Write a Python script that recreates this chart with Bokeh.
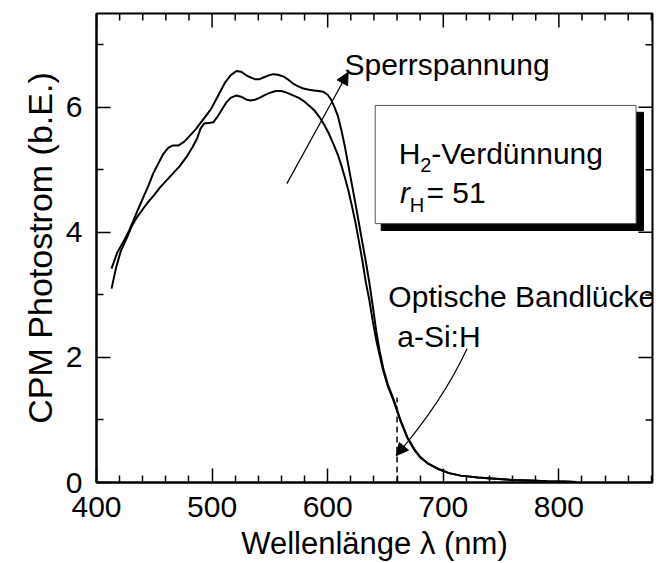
from bokeh.plotting import figure
from bokeh.models import Range1d, FixedTicker, Label, Arrow, NormalHead, BoxAnnotation
from bokeh.embed import file_html
from bokeh.resources import INLINE

# ---- data ----
wl_high = [413, 418, 423, 428, 432, 436, 440, 445, 449, 454, 458, 462, 466, 471, 476, 481,
           486, 490, 495, 499, 503, 507, 511, 516, 521, 525, 529, 533, 537, 541, 545, 549,
           553, 557, 562, 566, 570, 575, 579, 584, 588, 592, 596, 600, 603, 606, 609, 612,
           615, 618, 621, 624, 627, 630, 633, 636, 639, 642, 645, 648, 652, 657, 663, 669,
           675, 680, 687, 695, 705, 715, 730, 745, 760, 775, 790, 805, 815]
cpm_high = [3.42, 3.68, 3.84, 4.02, 4.19, 4.37, 4.54, 4.75, 4.94, 5.12, 5.26, 5.35, 5.39, 5.39, 5.45, 5.55,
            5.65, 5.75, 5.87, 5.97, 6.11, 6.25, 6.39, 6.51, 6.58, 6.57, 6.52, 6.48, 6.45, 6.45, 6.48, 6.51,
            6.53, 6.52, 6.49, 6.44, 6.38, 6.33, 6.30, 6.28, 6.27, 6.26, 6.25, 6.20, 6.12, 6.00, 5.85, 5.62,
            5.36, 5.06, 4.76, 4.46, 4.15, 3.84, 3.53, 3.20, 2.82, 2.42, 2.10, 1.83, 1.57, 1.33, 1.00, 0.72,
            0.53, 0.41, 0.30, 0.22, 0.15, 0.11, 0.08, 0.06, 0.04, 0.03, 0.02, 0.015, 0.01]

wl_low = [413, 417, 421, 426, 430, 435, 440, 444, 450, 455, 461, 466, 472, 478, 483, 487,
          490, 493, 497, 501, 505, 508, 512, 516, 521, 525, 529, 533, 537, 541, 545, 550,
          555, 560, 565, 570, 575, 580, 585, 589, 593, 597, 601, 605, 609, 612, 615, 618,
          621, 624, 627, 630, 633, 636, 639, 642, 645, 648, 652, 657, 663, 669, 675, 680,
          687, 695, 705, 715, 730, 745, 760, 775, 790, 805, 815]
cpm_low = [3.10, 3.44, 3.70, 3.90, 4.08, 4.24, 4.37, 4.47, 4.60, 4.72, 4.84, 4.94, 5.06, 5.21, 5.36, 5.50,
           5.66, 5.74, 5.75, 5.76, 5.86, 5.95, 6.07, 6.15, 6.19, 6.17, 6.13, 6.11, 6.12, 6.15, 6.19, 6.23,
           6.26, 6.26, 6.23, 6.19, 6.15, 6.09, 6.01, 5.94, 5.84, 5.72, 5.58, 5.41, 5.23, 5.06, 4.87, 4.66,
           4.42, 4.16, 3.86, 3.55, 3.20, 2.92, 2.58, 2.28, 2.03, 1.79, 1.54, 1.31, 0.98, 0.71, 0.52, 0.40,
           0.30, 0.22, 0.15, 0.11, 0.08, 0.06, 0.04, 0.03, 0.02, 0.015, 0.01]

x_major = [400, 500, 600, 700, 800]
x_minor = [420, 440, 460, 480, 520, 540, 560, 580, 620, 640, 660, 680,
           720, 740, 760, 780, 820, 840, 860, 880]
y_major = [0, 2, 4, 6]
y_minor = [1, 3, 5, 7]

bandgap_wl = [660, 660]
bandgap_cpm = [0, 1.36]

x_title = "Wellenlänge λ (nm)"
y_title = "CPM Photostrom (b.E.)"

X0, X1 = 400, 881
Y0, Y1 = 0, 7.5

FONT = "Liberation Sans"
FS = "30px"
SUB = "20px"

W, H = 656, 563
BL, BT, BR, BB = 96, 13, 4, 81

p = figure(width=W, height=H, x_range=Range1d(X0, X1), y_range=Range1d(Y0, Y1),
           output_backend="svg", toolbar_location=None,
           min_border_left=BL, min_border_top=BT, min_border_right=BR, min_border_bottom=BB)
p.xgrid.visible = False
p.ygrid.visible = False
p.outline_line_color = "black"
p.outline_line_width = 2
p.background_fill_color = "white"
p.border_fill_color = "white"

MAJ, MIN = 14, 7


def style_axis(ax, ticker, title_size):
    ax.ticker = ticker
    ax.major_tick_in = MAJ
    ax.major_tick_out = 0
    ax.minor_tick_in = MIN
    ax.minor_tick_out = 0
    ax.major_tick_line_width = 1.5
    ax.minor_tick_line_width = 1.5
    ax.major_tick_line_color = "black"
    ax.minor_tick_line_color = "black"
    ax.axis_line_width = 2
    ax.axis_line_color = "black"
    ax.major_label_text_font = FONT
    ax.major_label_text_font_size = FS
    ax.major_label_text_color = "black"
    ax.axis_label_text_font = FONT
    ax.axis_label_text_font_size = title_size
    ax.axis_label_text_font_style = "normal"
    ax.axis_label_text_color = "black"


style_axis(p.xaxis[0], FixedTicker(ticks=x_major, minor_ticks=x_minor), "31px")
p.xaxis[0].major_label_standoff = 14
p.xaxis[0].axis_label = x_title
p.xaxis[0].axis_label_standoff = 6
style_axis(p.yaxis[0], FixedTicker(ticks=y_major, minor_ticks=y_minor), "34px")
p.yaxis[0].major_label_standoff = 14
p.yaxis[0].axis_label = y_title
p.yaxis[0].axis_label_standoff = 4

# mirrored ticks on the top and right edges of the frame
px_per_x = (W - BL - BR) / (X1 - X0)
px_per_y = (H - BT - BB) / (Y1 - Y0)
for ticks, L in ((x_major, MAJ), (x_minor, MIN)):
    p.segment(x0=ticks, y0=[Y1] * len(ticks), x1=ticks, y1=[Y1 - L / px_per_y] * len(ticks),
              line_width=1.5, line_color="black")
for ticks, L in ((y_major, MAJ), (y_minor, MIN)):
    p.segment(x0=[X1] * len(ticks), y0=ticks, x1=[X1 - L / px_per_x] * len(ticks), y1=ticks,
              line_width=1.5, line_color="black")

# curves
p.line(wl_low, cpm_low, line_width=2, line_color="black")
p.line(wl_high, cpm_high, line_width=2, line_color="black")
p.line(bandgap_wl, bandgap_cpm, line_width=1.5, line_color="black", line_dash="6 4")

# arrows
p.add_layout(Arrow(end=NormalHead(size=12, fill_color="black", line_color="black"),
                   x_start=564.7, y_start=4.78, x_end=617.7, y_end=6.56,
                   line_width=1.2, line_color="black"))
p.quadratic(x0=[720.5], y0=[2.14], x1=[659.3], y1=[0.43], cx=[699.9], cy=[1.31],
            line_width=1.2, line_color="black")
p.add_layout(Arrow(end=NormalHead(size=12, fill_color="black", line_color="black"),
                   x_start=662.0, y_start=0.49, x_end=659.3, y_end=0.43,
                   line_width=1.2, line_color="black"))

# box with shadow
p.add_layout(BoxAnnotation(left=646.3, right=873.2, top=5.92, bottom=4.03,
                           fill_color="black", fill_alpha=1, line_color="black", line_alpha=1))
p.add_layout(BoxAnnotation(left=641.1, right=866.8, top=6.03, bottom=4.14,
                           fill_color="white", fill_alpha=1, line_color="#555555",
                           line_width=1, line_alpha=1))


def lab(x, y, text, size=FS, style="normal"):
    p.add_layout(Label(x=x, y=y, text=text, text_font=FONT, text_font_size=size,
                       text_font_style=style, text_color="black",
                       text_baseline="alphabetic", text_align="left"))


lab(614.5, 6.69, "Sperrspannung")
lab(652.5, 2.98, "Optische Bandlücke")
lab(660.2, 2.34, "a-Si:H")
lab(661.5, 5.264, "H")
lab(680.0, 5.07, "2", size=SUB)
lab(689.5, 5.264, "-Verdünnung")
lab(662.5, 4.64, "r", style="italic")
lab(671.0, 4.43, "H", size=SUB)
lab(685.5, 4.64, "= 51")

open("out.html", "w").write(file_html(p, INLINE))
